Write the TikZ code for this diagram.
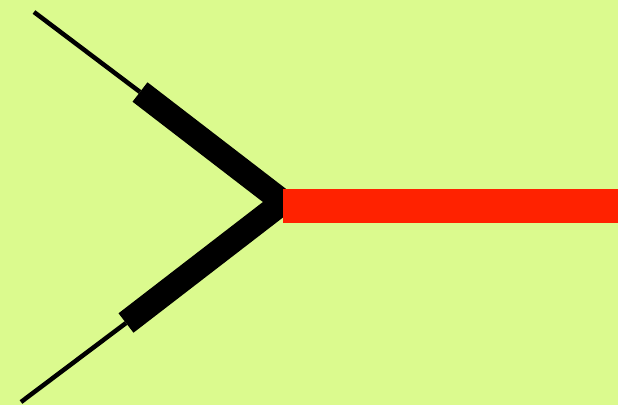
\documentclass[tikz,border=0pt]{standalone}
\definecolor{bggreen}{RGB}{219,250,142}
\definecolor{wirered}{RGB}{255,34,0}
\tikzset{
  thinwire/.style={line width=4.5pt, line cap=butt, black},
  thickwire/.style={line width=24.5pt, line cap=butt, line join=miter, black},
  redbar/.style={fill=wirered, draw=none}
}
\begin{document}
\begin{tikzpicture}[x=1pt,y=-1pt]
  \fill[bggreen] (0,0) rectangle (618,405);
  \useasboundingbox (0,0) rectangle (618,405);
  \coordinate (a) at (34,12);
  \coordinate (b) at (140,92);
  \coordinate (v) at (283,202);
  \coordinate (c) at (126,323);
  \coordinate (d) at (21,402);
  \draw[thinwire] (a) -- (b);
  \draw[thinwire] (c) -- (d);
  \draw[thickwire] (b) -- (v) -- (c);
  \fill[redbar] (283,189) rectangle (618,223);
\end{tikzpicture}
\end{document}
